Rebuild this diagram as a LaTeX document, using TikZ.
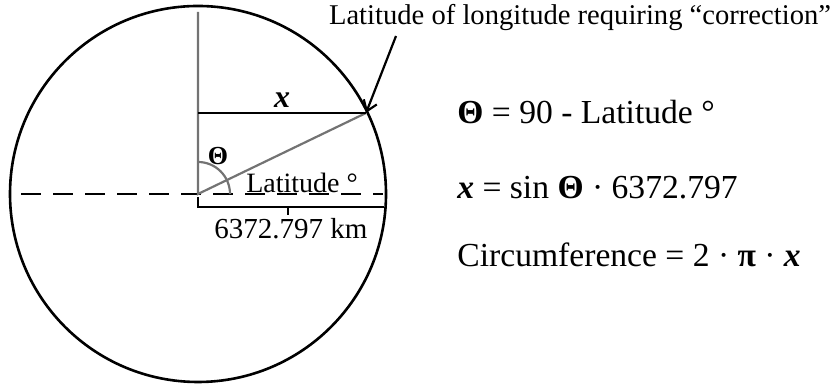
\documentclass[tikz,border=0pt]{standalone}
\usepackage{fontspec}
\setmainfont{Liberation Serif}
\usepackage{tikz}
\usetikzlibrary{arrows.meta}
\definecolor{rodgray}{RGB}{115,115,115}

\begin{document}
\begin{tikzpicture}[x=0.5pt,y=0.5pt]
    \useasboundingbox (0,0) rectangle (833,389);
    \coordinate (O) at (198,195);
    \coordinate (P) at (366,276);
    \coordinate (N) at (198,377);
    \coordinate (Px) at (198,276);
    
    \draw[line width=1.3pt] (O) circle (188);
    \draw[dashed, line width=1pt, dash pattern=on 10pt off 6pt] (21,195) -- (383,195);
    \draw[rodgray, line width=1.1pt] (N) -- (O) -- (P);
    \draw[line width=1.2pt] (Px) -- node[above, inner sep=2pt, font=\fontsize{16}{18}\selectfont] (xlab) {\textbf{\textit{x}}} (P);
    \draw[rodgray, line width=1.1pt] (198,227) arc (90:0:32);
    \node[font=\fontsize{13}{15}\selectfont] (theta) at (218,233) {\textbf{Θ}};
    \node[font=\fontsize{14}{16}\selectfont] (lat) at (302,206) {Latitude °};
    
    % ruler
    \draw[line width=1.2pt] (198,192) -- (198,182) -- (384,182);
    \draw[line width=1.2pt] (288,182) -- (288,174);
    \node[font=\fontsize{14.5}{16}\selectfont] (km) at (291,160) {6372.797 km};
    
    \node[font=\fontsize{14.3}{16}\selectfont] (note) at (580,371) {Latitude of longitude requiring “correction”};
    \coordinate (tail) at (396,353);
    \draw[-{Straight Barb[length=5pt,width=7pt]}, line width=1.1pt] (tail) -- (P);
    
    \node[anchor=base west, inner sep=0pt, font=\fontsize{16.8}{18}\selectfont] (eq1) at (457,265) {\textbf{Θ} = 90 - Latitude °};
    \node[anchor=base west, inner sep=0pt, font=\fontsize{16.8}{18}\selectfont] (eq2) at (457,190) {\textbf{\textit{x}} = sin \textbf{Θ} · 6372.797};
    \node[anchor=base west, inner sep=0pt, font=\fontsize{16.8}{18}\selectfont] (eq3) at (457,122) {Circumference = 2 · \textbf{π} · \textbf{\textit{x}}};
\end{tikzpicture}
\end{document}
